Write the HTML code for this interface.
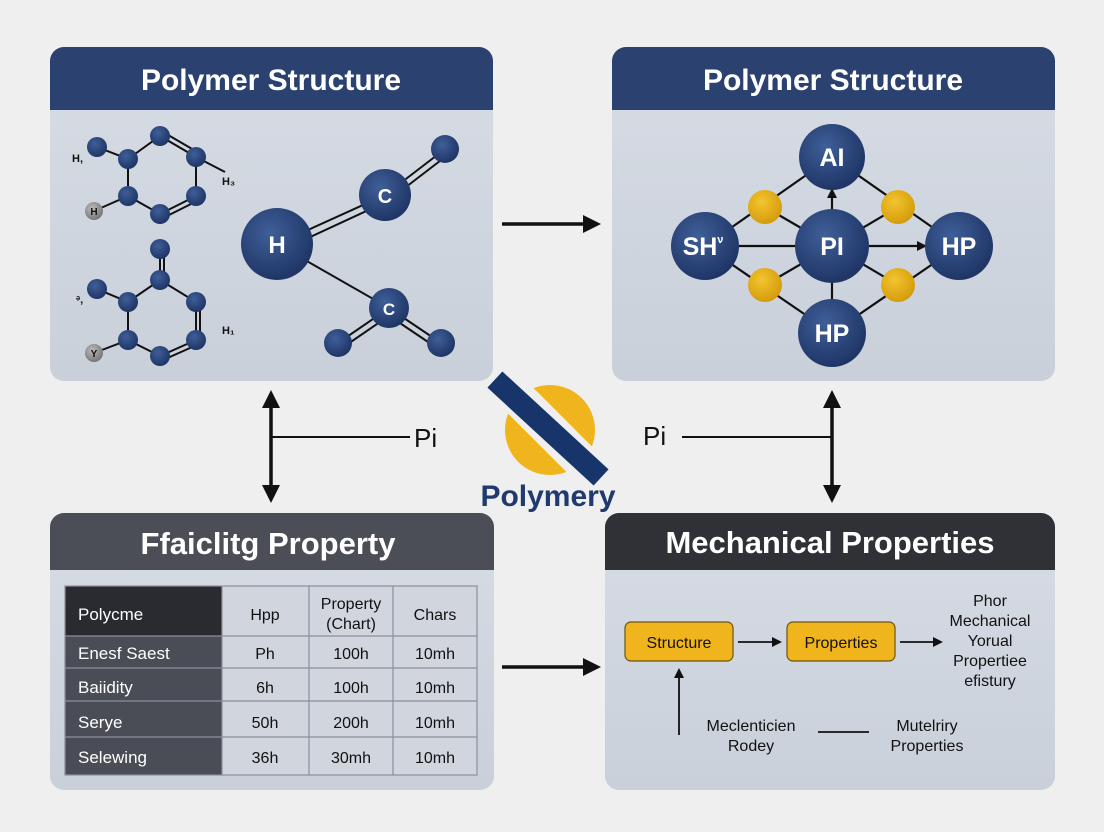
<!DOCTYPE html>
<html><head><meta charset="utf-8"><style>
html,body{margin:0;padding:0;background:#efefef;}
svg{display:block;font-family:"Liberation Sans",sans-serif;}
</style></head><body>
<svg width="1104" height="832" viewBox="0 0 1104 832" xmlns="http://www.w3.org/2000/svg">
<defs>
<radialGradient id="ball" cx="40%" cy="35%" r="65%"><stop offset="0" stop-color="#3f5f98"/><stop offset="1" stop-color="#1f3566"/></radialGradient>
<radialGradient id="gold" cx="40%" cy="35%" r="65%"><stop offset="0" stop-color="#f4c430"/><stop offset="1" stop-color="#d49c0c"/></radialGradient>
<radialGradient id="gray" cx="40%" cy="35%" r="65%"><stop offset="0" stop-color="#bbb"/><stop offset="1" stop-color="#777"/></radialGradient>
<linearGradient id="body" x1="0" y1="0" x2="0" y2="1"><stop offset="0" stop-color="#d7dce4"/><stop offset="1" stop-color="#c9d0da"/></linearGradient>
<marker id="ah" markerWidth="10" markerHeight="10" refX="8" refY="5" orient="auto" markerUnits="userSpaceOnUse"><path d="M0,0 L10,5 L0,10 z" fill="#111"/></marker>
<marker id="ahb" markerWidth="18" markerHeight="18" refX="14" refY="9" orient="auto-start-reverse" markerUnits="userSpaceOnUse"><path d="M0,0 L18,9 L0,18 z" fill="#111"/></marker>
<clipPath id="c1"><rect x="50" y="47" width="443" height="334" rx="14"/></clipPath>
<clipPath id="c2"><rect x="612" y="47" width="443" height="334" rx="14"/></clipPath>
<clipPath id="c3"><rect x="50" y="513" width="444" height="277" rx="14"/></clipPath>
<clipPath id="c4"><rect x="605" y="513" width="450" height="277" rx="14"/></clipPath>
</defs>
<rect width="1104" height="832" fill="#efefef"/>

<g clip-path="url(#c1)"><rect x="50" y="47" width="443" height="334" fill="url(#body)"/><rect x="50" y="47" width="443" height="63" fill="#2b4170"/></g>
<text x="271" y="90" font-size="30" font-weight="bold" fill="#fff" text-anchor="middle">Polymer Structure</text>
<g stroke="#111" stroke-width="2" fill="none">
<polyline points="97,147 128,159 160,136 196,157 196,196 160,214 128,196 128,159"/>
<line x1="196" y1="157" x2="225" y2="172"/>
<line x1="94" y1="211" x2="128" y2="196"/>
<line x1="163" y1="132" x2="199" y2="153"/><line x1="163" y1="218" x2="199" y2="200"/>
<polyline points="97,289 128,302 160,280 196,302 196,340 160,356 128,340 128,302"/>
<line x1="160" y1="249" x2="160" y2="280"/><line x1="164" y1="249" x2="164" y2="280"/>
<line x1="200" y1="302" x2="200" y2="340"/><line x1="163" y1="360" x2="199" y2="344"/>
<line x1="94" y1="353" x2="128" y2="340"/>
<line x1="277" y1="244" x2="385" y2="195"/><line x1="280" y1="251" x2="388" y2="201"/>
<line x1="385" y1="195" x2="445" y2="149"/><line x1="389" y1="200" x2="449" y2="154"/>
<line x1="277" y1="244" x2="389" y2="308"/>
<line x1="389" y1="308" x2="338" y2="343"/><line x1="393" y1="313" x2="342" y2="348"/>
<line x1="389" y1="308" x2="441" y2="343"/><line x1="385" y1="313" x2="437" y2="348"/>
</g>
<g fill="url(#ball)">
<circle cx="97" cy="147" r="10"/><circle cx="128" cy="159" r="10"/><circle cx="160" cy="136" r="10"/><circle cx="196" cy="157" r="10"/><circle cx="196" cy="196" r="10"/><circle cx="160" cy="214" r="10"/><circle cx="128" cy="196" r="10"/>
<circle cx="160" cy="249" r="10"/><circle cx="97" cy="289" r="10"/><circle cx="128" cy="302" r="10"/><circle cx="160" cy="280" r="10"/><circle cx="196" cy="302" r="10"/><circle cx="196" cy="340" r="10"/><circle cx="160" cy="356" r="10"/><circle cx="128" cy="340" r="10"/>
<circle cx="277" cy="244" r="36"/><circle cx="385" cy="195" r="26"/><circle cx="445" cy="149" r="14"/><circle cx="389" cy="308" r="20"/><circle cx="338" cy="343" r="14"/><circle cx="441" cy="343" r="14"/>
</g>
<circle cx="94" cy="211" r="9" fill="url(#gray)"/><circle cx="94" cy="353" r="9" fill="url(#gray)"/>
<g font-size="11" font-weight="bold" fill="#111">
<text x="72" y="162">H,</text><text x="222" y="185">H₃</text><text x="222" y="334">H₁</text><text x="76" y="303">ᵊ,</text>
<text x="94" y="215" text-anchor="middle" font-size="10">H</text><text x="94" y="357" text-anchor="middle" font-size="10">Y</text>
</g>
<g font-weight="bold" fill="#fff" text-anchor="middle">
<text x="277" y="253" font-size="24">H</text><text x="385" y="203" font-size="20">C</text><text x="389" y="315" font-size="17">C</text>
</g>

<g clip-path="url(#c2)"><rect x="612" y="47" width="443" height="334" fill="url(#body)"/><rect x="612" y="47" width="443" height="63" fill="#2b4170"/></g>
<text x="833" y="90" font-size="30" font-weight="bold" fill="#fff" text-anchor="middle">Polymer Structure</text>
<g stroke="#111" stroke-width="2.2">
<line x1="705" y1="246" x2="832" y2="157"/><line x1="832" y1="157" x2="959" y2="246"/>
<line x1="705" y1="246" x2="832" y2="333"/><line x1="832" y1="333" x2="959" y2="246"/>
<line x1="765" y1="207" x2="832" y2="246"/><line x1="898" y1="207" x2="832" y2="246"/>
<line x1="765" y1="285" x2="832" y2="246"/><line x1="898" y1="285" x2="832" y2="246"/>
<line x1="705" y1="246" x2="832" y2="246"/><line x1="832" y1="246" x2="832" y2="333"/>
<line x1="832" y1="210" x2="832" y2="190" marker-end="url(#ah)"/>
<line x1="869" y1="246" x2="925" y2="246" marker-end="url(#ah)"/>
</g>
<g fill="url(#ball)"><circle cx="832" cy="157" r="33"/><circle cx="705" cy="246" r="34"/><circle cx="832" cy="246" r="37"/><circle cx="959" cy="246" r="34"/><circle cx="832" cy="333" r="34"/></g>
<g fill="url(#gold)"><circle cx="765" cy="207" r="17"/><circle cx="898" cy="207" r="17"/><circle cx="765" cy="285" r="17"/><circle cx="898" cy="285" r="17"/></g>
<g font-weight="bold" fill="#fff" text-anchor="middle" font-size="25">
<text x="832" y="166">AI</text><text x="703" y="255">SH<tspan font-size="11" dy="-12">ν</tspan></text><text x="832" y="255">PI</text><text x="959" y="255">HP</text><text x="832" y="342">HP</text>
</g>

<g stroke="#111" stroke-width="3.5">
<line x1="502" y1="224" x2="597" y2="224" marker-end="url(#ahb)"/>
<line x1="502" y1="667" x2="597" y2="667" marker-end="url(#ahb)"/>
<line x1="271" y1="394" x2="271" y2="499" marker-start="url(#ahb)" marker-end="url(#ahb)"/>
<line x1="832" y1="394" x2="832" y2="499" marker-start="url(#ahb)" marker-end="url(#ahb)"/>
</g>
<g stroke="#111" stroke-width="2"><line x1="271" y1="437" x2="410" y2="437"/><line x1="682" y1="437" x2="832" y2="437"/></g>
<text x="414" y="447" font-size="26" fill="#111">Pi</text>
<text x="643" y="445" font-size="26" fill="#111">Pi</text>

<circle cx="550" cy="430" r="45" fill="#f0b51d"/>
<line x1="500" y1="380" x2="600" y2="480" stroke="#efefef" stroke-width="36"/>
<line x1="503" y1="387" x2="593" y2="470" stroke="#17346b" stroke-width="22" stroke-linecap="square"/>
<text x="548" y="506" font-size="30" font-weight="bold" fill="#1f3a6e" text-anchor="middle">Polymery</text>

<g clip-path="url(#c3)"><rect x="50" y="513" width="444" height="277" fill="url(#body)"/><rect x="50" y="513" width="444" height="57" fill="#4b4e56"/></g>
<text x="268" y="554" font-size="31" font-weight="bold" fill="#fff" text-anchor="middle">Ffaiclitg Property</text>
<rect x="65" y="586" width="157" height="50" fill="#2a2b30"/>
<rect x="65" y="636" width="157" height="139" fill="#4a4d56"/>
<rect x="222" y="586" width="255" height="189" fill="#d0d5de"/>
<g stroke="#8a8f99" stroke-width="1.2" fill="none">
<rect x="65" y="586" width="412" height="189"/>
<line x1="222" y1="586" x2="222" y2="775"/><line x1="309" y1="586" x2="309" y2="775"/><line x1="393" y1="586" x2="393" y2="775"/>
<line x1="65" y1="636" x2="477" y2="636"/><line x1="65" y1="668" x2="477" y2="668"/><line x1="65" y1="701" x2="477" y2="701"/><line x1="65" y1="737" x2="477" y2="737"/>
</g>
<g font-size="17" fill="#fff"><text x="78" y="620">Polycme</text><text x="78" y="659">Enesf Saest</text><text x="78" y="693">Baiidity</text><text x="78" y="728">Serye</text><text x="78" y="763">Selewing</text></g>
<g font-size="16" fill="#111" text-anchor="middle">
<text x="265" y="620">Hpp</text><text x="351" y="609">Property</text><text x="351" y="629">(Chart)</text><text x="435" y="620">Chars</text>
<text x="265" y="659">Ph</text><text x="351" y="659">100h</text><text x="435" y="659">10mh</text>
<text x="265" y="693">6h</text><text x="351" y="693">100h</text><text x="435" y="693">10mh</text>
<text x="265" y="728">50h</text><text x="351" y="728">200h</text><text x="435" y="728">10mh</text>
<text x="265" y="763">36h</text><text x="351" y="763">30mh</text><text x="435" y="763">10mh</text>
</g>

<g clip-path="url(#c4)"><rect x="605" y="513" width="450" height="277" fill="url(#body)"/><rect x="605" y="513" width="450" height="57" fill="#2f3136"/></g>
<text x="830" y="553" font-size="31" font-weight="bold" fill="#fff" text-anchor="middle">Mechanical Properties</text>
<rect x="625" y="622" width="108" height="39" rx="6" fill="#f0b51d" stroke="#6b5410" stroke-width="1.2"/>
<rect x="787" y="622" width="108" height="39" rx="6" fill="#f0b51d" stroke="#6b5410" stroke-width="1.2"/>
<text x="679" y="648" font-size="16" fill="#111" text-anchor="middle">Structure</text>
<text x="841" y="648" font-size="16" fill="#111" text-anchor="middle">Properties</text>
<g stroke="#111" stroke-width="1.8">
<line x1="738" y1="642" x2="780" y2="642" marker-end="url(#ah)"/>
<line x1="900" y1="642" x2="941" y2="642" marker-end="url(#ah)"/>
<line x1="679" y1="735" x2="679" y2="670" marker-end="url(#ah)"/>
<line x1="818" y1="732" x2="869" y2="732"/>
</g>
<g font-size="16" fill="#111" text-anchor="middle">
<text x="990" y="606">Phor</text><text x="990" y="626">Mechanical</text><text x="990" y="646">Yorual</text><text x="990" y="666">Propertiee</text><text x="990" y="686">efistury</text>
<text x="751" y="731">Meclenticien</text><text x="751" y="751">Rodey</text>
<text x="927" y="731">Mutelriry</text><text x="927" y="751">Properties</text>
</g>
</svg>
</body></html>
